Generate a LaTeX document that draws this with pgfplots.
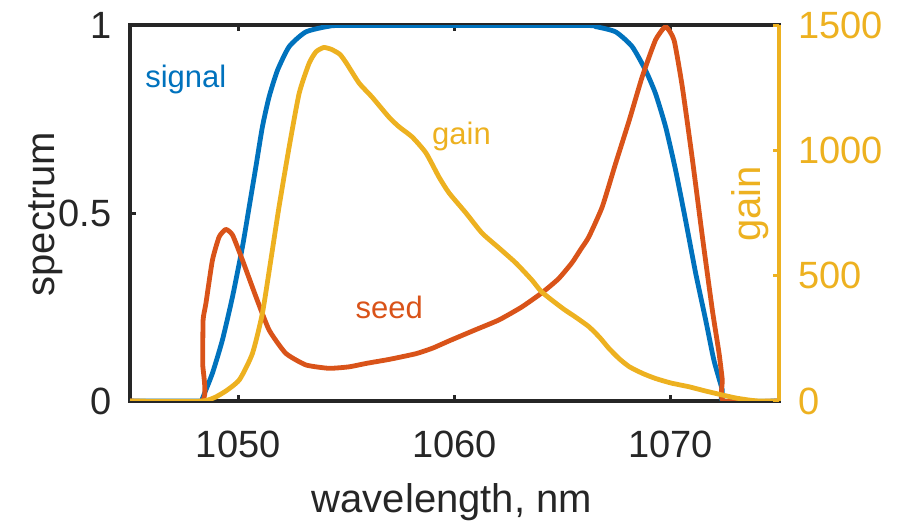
\documentclass[border=0pt]{standalone}
\usepackage{fontspec}
\setmainfont{Liberation Sans}
\usepackage{pgfplots}
\pgfplotsset{compat=1.18}
\definecolor{mblue}{HTML}{0072BD}
\definecolor{mred}{HTML}{D95319}
\definecolor{myel}{HTML}{EDB120}
\definecolor{mgray}{HTML}{262626}
\begin{document}
\begin{tikzpicture}
\begin{axis}[
 scale only axis, width=324.5pt, height=187.75pt,
 xmin=1045, xmax=1075, ymin=0, ymax=1,
 xtick={1050,1060,1070}, ytick={0,0.5,1},
 ytick pos=left,
 tick align=inside,
 major tick length=3pt,
 every tick/.style={black!85, line width=1.5pt},
 axis line style={line width=2pt, color=black!85},
 /pgf/number format/assume math mode=true,
 /pgf/number format/1000 sep={},
 scaled x ticks=false,
 ticklabel style={font=\fontsize{19}{22}\selectfont, color=mgray},
 xticklabel style={anchor=base, yshift=-28.5pt},
 yticklabel style={anchor=east, inner sep=0pt, xshift=-9pt},
 xlabel={wavelength, nm}, ylabel={spectrum},
 every axis x label/.style={at={(rel axis cs:0.496,-0.298)}, anchor=base, font=\fontsize{20}{24}\selectfont, color=mgray},
 every axis y label/.style={at={(rel axis cs:-0.1156,0.498)}, rotate=90, anchor=base, font=\fontsize{20}{24}\selectfont, color=mgray},
]
\addplot[mblue, line width=2.4pt, line join=round, smooth, tension=0.35] coordinates {
(1045,0) (1048.25,0) (1048.35,0.007) (1048.81,0.074) (1049.27,0.162) (1049.74,0.278)
(1050.2,0.411) (1050.51,0.517) (1050.82,0.624) (1051.12,0.73) (1051.43,0.81) (1051.82,0.881)
(1052.36,0.944) (1053.13,0.983) (1054.2,0.998) (1055.2,1.0) (1065.8,1.0) (1066.52,0.997)
(1067.45,0.983) (1068.21,0.944) (1068.83,0.881) (1069.29,0.819) (1069.76,0.73) (1070.22,0.615)
(1070.68,0.482) (1071.15,0.34) (1071.61,0.216) (1071.99,0.109) (1072.38,0.029) (1072.45,0) (1075,0)
};
\addplot[mred, line width=2.4pt, line join=round, smooth, tension=0.3] coordinates {
(1045,0) (1048.33,0) (1048.36,0.1) (1048.38,0.216) (1048.51,0.26) (1048.81,0.375) (1049.12,0.437)
(1049.43,0.457) (1049.74,0.442) (1050.2,0.375) (1050.82,0.278) (1051.43,0.189) (1052.2,0.127)
(1053.13,0.096) (1054.2,0.087) (1055.13,0.091)
(1055.91,0.1) (1057.0,0.111) (1058.22,0.126) (1059.0,0.141) (1059.75,0.16) (1060.9,0.188)
(1062.06,0.216) (1063.1,0.25) (1064.04,0.288) (1064.8,0.325) (1065.43,0.368) (1065.85,0.405)
(1066.21,0.437) (1066.83,0.517) (1067.45,0.633) (1068.08,0.748) (1068.68,0.864) (1069.29,0.961)
(1069.76,0.997) (1070.15,0.961) (1070.53,0.837) (1071.0,0.642) (1071.46,0.437) (1071.92,0.242)
(1072.23,0.127) (1072.38,0.056) (1072.45,0) (1075,0)
};
\node[anchor=base west, font=\fontsize{15.5}{18}\selectfont, color=mblue, inner sep=0pt] at (rel axis cs:0.023,0.834) {signal};
\node[anchor=base west, font=\fontsize{15.5}{18}\selectfont, color=myel, inner sep=0pt] at (rel axis cs:0.465,0.682) {gain};
\node[anchor=base west, font=\fontsize{15.5}{18}\selectfont, color=mred, inner sep=0pt] at (rel axis cs:0.347,0.221) {seed};
\coordinate (bbl) at (rel axis cs:-0.2003,-0.3196);
\coordinate (btr) at (rel axis cs:1.1988,1.0679);
\end{axis}
\begin{axis}[
 scale only axis, width=324.5pt, height=187.75pt,
 xmin=1045, xmax=1075, ymin=0, ymax=1500,
 axis x line=none, axis y line*=right,
 ytick={0,500,1000,1500},
 tick align=inside,
 major tick length=3pt,
 every tick/.style={myel, line width=1.5pt},
 axis line style={line width=2pt, color=myel},
 /pgf/number format/assume math mode=true,
 /pgf/number format/1000 sep={},
 scaled y ticks=false,
 ticklabel style={font=\fontsize{19}{22}\selectfont, color=myel},
 yticklabel style={anchor=west, inner sep=0pt, xshift=9.5pt},
 ylabel={gain},
 every axis y label/.style={at={(rel axis cs:0.971,0.525)}, rotate=90, anchor=base, font=\fontsize{20}{24}\selectfont, color=myel},
]
\addplot[myel, line width=2.4pt, line join=round, smooth, tension=0.35] coordinates {
(1045,0) (1048.35,0) (1049.27,31) (1050.05,84) (1050.66,190) (1051.12,350) (1051.51,563)
(1051.89,776) (1052.36,1016) (1052.82,1229) (1053.28,1349) (1053.6,1395) (1053.95,1412)
(1054.3,1405) (1054.7,1385) (1055.0,1350) (1055.59,1270) (1056.19,1214)
(1056.97,1134) (1057.44,1095) (1058.04,1055) (1058.68,991) (1059.28,895) (1059.75,831)
(1060.53,751) (1061.27,671) (1062.06,611) (1062.84,551) (1063.58,483) (1064.04,435)
(1065.0,370) (1065.6,335) (1066.21,297) (1066.7,255) (1067.14,210) (1067.6,170) (1068.08,137)
(1068.7,110) (1069.29,90) (1070.0,72) (1070.83,57) (1071.6,40) (1072.38,24) (1073.0,12)
(1073.6,4) (1074.07,0) (1075,0)
};
\end{axis}
\pgfresetboundingbox
\useasboundingbox (bbl) rectangle (btr);
\end{tikzpicture}
\end{document}
